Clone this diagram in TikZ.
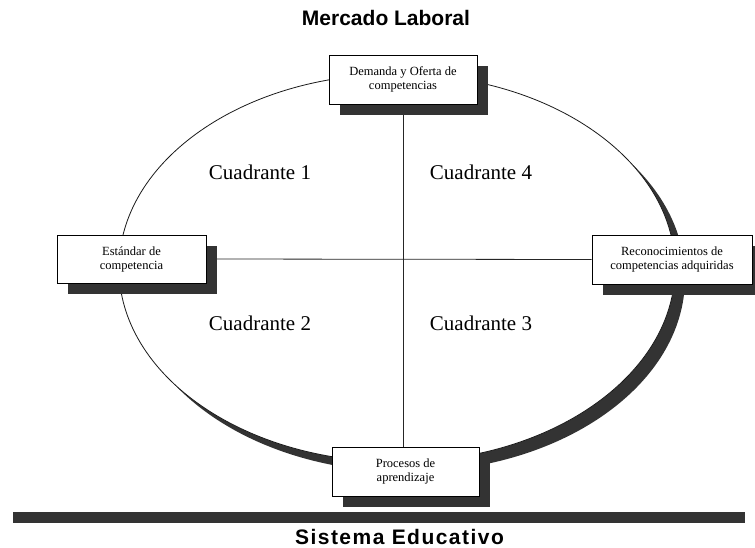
\documentclass[tikz,border=0pt]{standalone}
\usepackage{fontspec}
\setmainfont{Liberation Serif}
\setsansfont{Liberation Sans}
\usetikzlibrary{shadows,backgrounds}
\definecolor{shadowc}{HTML}{333333}
\begin{document}
\begin{tikzpicture}[x=1pt,y=-1pt,
  sbox/.style={draw=black, line width=0.9pt, fill=white, align=center, inner sep=0pt,
    font=\fontsize{12.5}{14}\selectfont,
    drop shadow={shadow xshift=11pt, shadow yshift=-11pt, fill=shadowc, opacity=1}},
  quad/.style={font=\fontsize{21}{24}\selectfont},
  titletext/.style={font=\sffamily\bfseries\fontsize{21}{24}\selectfont, anchor=base},
  conn/.style={draw=black!85, line width=0.8pt}]
\useasboundingbox (0,0) rectangle (755,548);
% boxes
\node[sbox, minimum width=148pt, minimum height=49pt] (T) at (403,79.5) {Demanda y Oferta de\\competencias};
\node[sbox, minimum width=149pt, minimum height=48pt] (L) at (131.5,259) {Estándar de\\competencia};
\node[sbox, minimum width=160pt, minimum height=49pt] (R) at (672,259.5) {Reconocimientos de\\competencias adquiridas};
\node[sbox, minimum width=147pt, minimum height=49pt] (B) at (405.5,471.5) {Procesos de\\aprendizaje};
\begin{scope}[on background layer]
  \fill[shadowc] (407,278) ellipse [x radius=278pt, y radius=194pt];
  \filldraw[fill=white, draw=black!90, line width=0.8pt] (397,268) ellipse [x radius=278pt, y radius=194pt];
  \draw[conn] (L.east) -- (R.west);
  \draw[conn] (T.south) -- (T.south |- B.north);
\end{scope}
% quadrant labels
\node[quad] (q1) at (260,172) {Cuadrante 1};
\node[quad] (q4) at (481,172) {Cuadrante 4};
\node[quad] (q2) at (260,323) {Cuadrante 2};
\node[quad] (q3) at (481,323) {Cuadrante 3};
% titles
\node[titletext] (mt) at (386,25.7) {Mercado Laboral};
\fill[shadowc] (13,512) rectangle (745,523);
\node[titletext, font=\sffamily\bfseries\fontsize{21}{24}\selectfont\addfontfeature{LetterSpace=7}] (se) at (399.5,544) {Sistema Educativo};
\end{tikzpicture}
\end{document}
